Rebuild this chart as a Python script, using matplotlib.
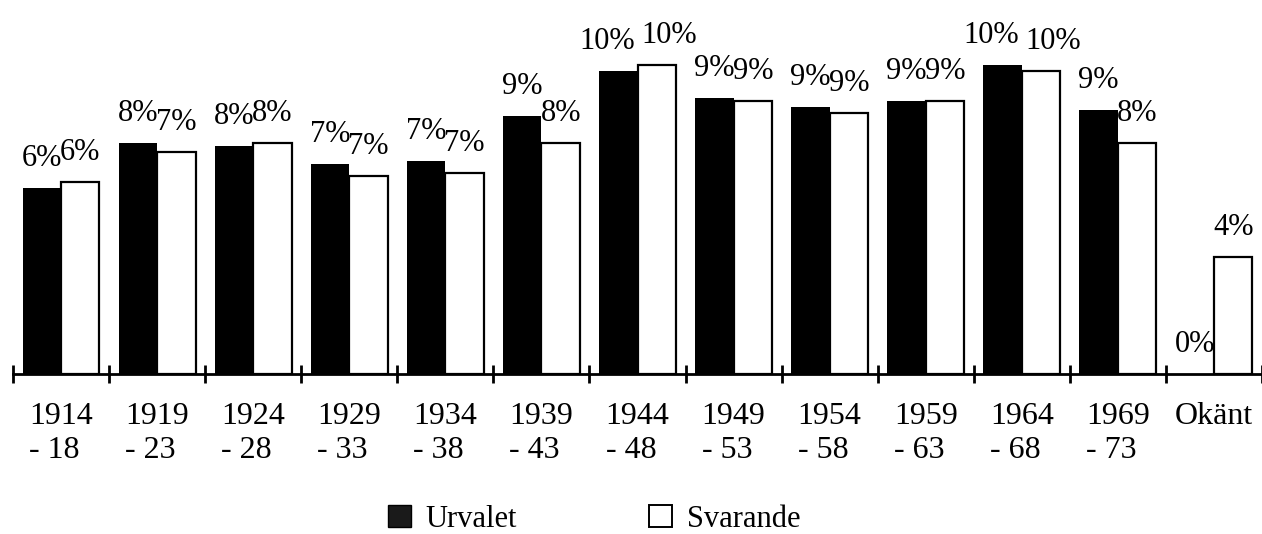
import numpy as np
import matplotlib
matplotlib.use('Agg')
import matplotlib.pyplot as plt
from matplotlib.patches import Patch

plt.rcParams['font.family'] = ['Liberation Serif', 'DejaVu Serif']

# categories (birth year groups)
categories = ['1914\n- 18', '1919\n- 23', '1924\n- 28', '1929\n- 33', '1934\n- 38',
              '1939\n- 43', '1944\n- 48', '1949\n- 53', '1954\n- 58', '1959\n- 63',
              '1964\n- 68', '1969\n- 73', 'Okänt']
# percent
urvalet = [6.2, 7.7, 7.6, 7.0, 7.1, 8.6, 10.1, 9.2, 8.9, 9.1, 10.3, 8.8, 0.0]
svarande = [6.4, 7.4, 7.7, 6.6, 6.7, 7.7, 10.3, 9.1, 8.7, 9.1, 10.1, 7.7, 3.9]
urvalet_labels = ['6%', '8%', '8%', '7%', '7%', '9%', '10%', '9%', '9%', '9%', '10%', '9%', '0%']
svarande_labels = ['6%', '7%', '8%', '7%', '7%', '8%', '10%', '9%', '9%', '9%', '10%', '8%', '4%']

W, H = 1262, 534
fig = plt.figure(figsize=(W / 100, H / 100), dpi=100)
ax = fig.add_axes([13 / W, (H - 374) / H, (W - 13) / W, 374 / H])

x = np.arange(len(categories))
bw = 0.4
ax.bar(x - bw / 2, urvalet, bw, color='black', edgecolor='black', linewidth=0)
ax.bar(x + bw / 2, svarande, bw, color='white', edgecolor='black', linewidth=1.6)

# wide labels (10%) are pushed apart so the pair does not collide
for xi, v, lab in zip(x - bw / 2, urvalet, urvalet_labels):
    dx = -8 if len(lab) > 2 else 0
    ax.annotate(lab, (xi, v), xytext=(dx, 11), textcoords='offset points',
                ha='center', va='bottom', fontsize=22)
for xi, v, lab in zip(x + bw / 2, svarande, svarande_labels):
    dx = 9 if len(lab) > 2 else 0
    ax.annotate(lab, (xi, v), xytext=(dx, 11), textcoords='offset points',
                ha='center', va='bottom', fontsize=22)

ax.set_xlim(-0.5, len(categories) - 0.5)
ax.set_ylim(0, 374 / 30)

for s in ['top', 'right', 'left']:
    ax.spines[s].set_visible(False)
ax.spines['bottom'].set_linewidth(2)
ax.set_yticks([])

ax.set_xticks(x)
ax.set_xticklabels(categories, fontsize=23, multialignment='left', linespacing=1.25)
ax.tick_params(axis='x', which='major', length=0, pad=20)
ax.set_xticks(np.arange(len(categories) + 1) - 0.5, minor=True)
ax.tick_params(axis='x', which='minor', direction='inout', length=13, width=2)

handles = [Patch(facecolor='#1a1a1a', edgecolor='black', linewidth=1),
           Patch(facecolor='white', edgecolor='black', linewidth=1.4)]
fig.legend(handles, ['Urvalet', 'Svarande'], loc='center', ncol=2,
           bbox_to_anchor=(594 / W, 0.028), frameon=False, fontsize=22,
           handlelength=0.75, handleheight=0.75, handletextpad=0.5,
           columnspacing=4.3, borderpad=0)

fig.savefig('out.png', dpi=100)
